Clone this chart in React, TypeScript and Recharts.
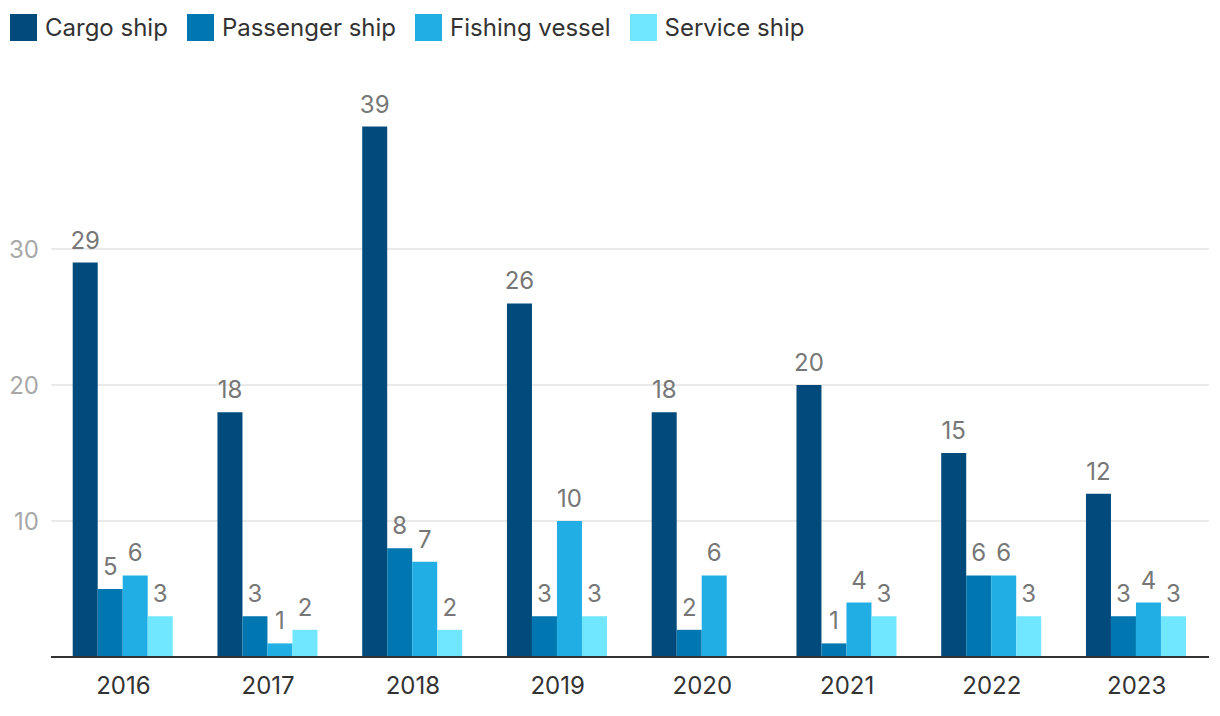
import React from "react";
import { BarChart, Bar, XAxis, YAxis, CartesianGrid, Legend, LabelList } from "recharts";

const years = ["2016", "2017", "2018", "2019", "2020", "2021", "2022", "2023"];
const cargoShip = [29, 18, 39, 26, 18, 20, 15, 12];
const passengerShip = [5, 3, 8, 3, 2, 1, 6, 3];
const fishingVessel = [6, 1, 7, 10, 6, 4, 6, 4];
const serviceShip: (number | null)[] = [3, 2, 2, 3, null, 3, 3, 3];
const yTicks = [10, 20, 30];

const seriesInfo = [
  { key: "cargo", name: "Cargo ship", color: "#004a7c" },
  { key: "passenger", name: "Passenger ship", color: "#0077b0" },
  { key: "fishing", name: "Fishing vessel", color: "#21aee5" },
  { key: "service", name: "Service ship", color: "#71e7ff" },
];

const data = years.map((y, i) => ({
  year: y,
  cargo: cargoShip[i],
  passenger: passengerShip[i],
  fishing: fishingVessel[i],
  service: serviceShip[i],
}));

const FONT = "Inter, 'Noto Sans', sans-serif";

const renderLegend = () => (
  <div style={{ display: "flex", alignItems: "center", fontFamily: FONT, fontSize: 24, color: "#333" }}>
    {seriesInfo.map((s) => (
      <div key={s.key} style={{ display: "flex", alignItems: "center", marginRight: 19 }}>
        <div style={{ width: 27, height: 27, background: s.color, marginRight: 8 }} />
        <span>{s.name}</span>
      </div>
    ))}
  </div>
);

const ValueLabel = (props: any) => {
  const { x, y, width, value } = props;
  if (value === null || value === undefined || value === 0) return null;
  return (
    <text x={x + width / 2} y={y - 14} textAnchor="middle" fill="#777" fontSize={24} fontFamily={FONT}>
      {value}
    </text>
  );
};

export default function App() {
  return (
    <div style={{ position: "absolute", left: 0, top: 0, width: 1220, height: 716, background: "#fff" }}>
      <BarChart
        width={1220}
        height={716}
        data={data}
        margin={{ top: 57, right: 11, bottom: 0, left: 0 }}
        barCategoryGap="15%"
        barGap={0}
      >
        <CartesianGrid vertical={false} stroke="#e3e3e3" strokeWidth={1.5} horizontalValues={yTicks} />
        <Legend
          verticalAlign="top"
          align="left"
          height={56}
          content={renderLegend}
          wrapperStyle={{ top: 13, left: 10 }}
        />
        <XAxis
          dataKey="year"
          axisLine={{ stroke: "#333", strokeWidth: 2 }}
          tickLine={false}
          tick={{ fill: "#333", fontSize: 24, fontFamily: FONT }}
          tickMargin={14}
          height={59}
        />
        <YAxis
          domain={[0, 40]}
          ticks={yTicks}
          axisLine={false}
          tickLine={false}
          width={51}
          tickMargin={6}
          tick={{ fill: "#a8a8a8", fontSize: 24, fontFamily: FONT }}
        />
        {seriesInfo.map((s) => (
          <Bar key={s.key} dataKey={s.key} name={s.name} fill={s.color} isAnimationActive={false}>
            <LabelList dataKey={s.key} content={ValueLabel} />
          </Bar>
        ))}
      </BarChart>
    </div>
  );
}
